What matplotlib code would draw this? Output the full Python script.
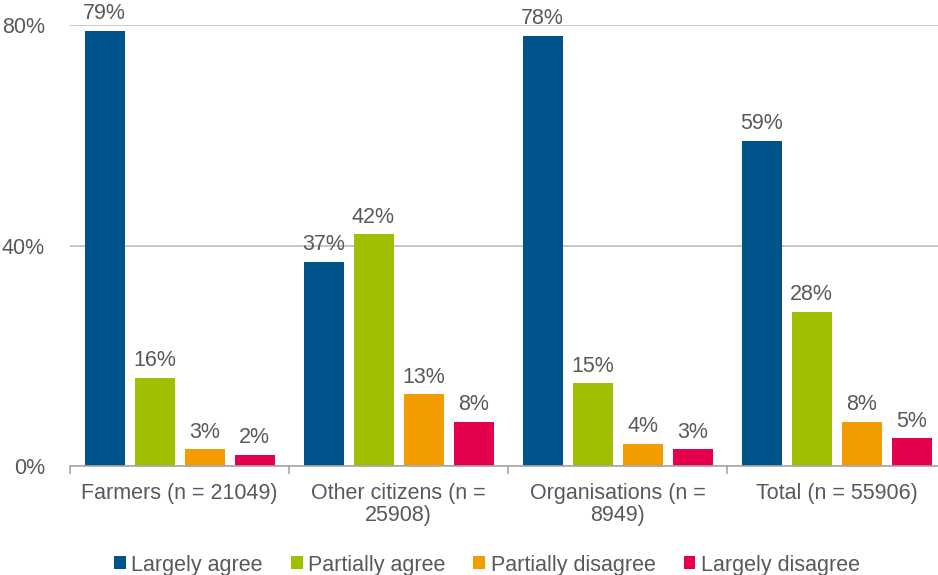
import matplotlib.pyplot as plt
import numpy as np

plt.rcParams['font.family'] = ['Liberation Sans', 'DejaVu Sans']

# Datos
grupos = ['Farmers (n = 21049)', 'Other citizens (n =\n25908)',
          'Organisations (n =\n8949)', 'Total (n = 55906)']
series = ['Largely agree', 'Partially agree', 'Partially disagree', 'Largely disagree']
largely_agree = [79, 37, 78, 59]
partially_agree = [16, 42, 15, 28]
partially_disagree = [3, 13, 4, 8]
largely_disagree = [2, 8, 3, 5]
colores = ['#00538A', '#A2BE00', '#F39C00', '#E4004F']
valores = [largely_agree, partially_agree, partially_disagree, largely_disagree]

texto = '#595959'
fs = 15.5

fig = plt.figure(figsize=(9.38, 5.75), dpi=100)
ax = fig.add_axes([70 / 938, 1 - 466 / 575, 876 / 938, 441 / 575])

x = np.arange(len(grupos))
ancho = 40 / 219
paso = 50 / 219
for i, (serie, vals, c) in enumerate(zip(series, valores, colores)):
    pos = x + (i - 1.5) * paso
    ax.bar(pos, vals, width=ancho, color=c, label=serie, zorder=3)
    for p, v in zip(pos, vals):
        ax.text(p, v + 1.2, f'{v}%', ha='center', va='bottom', fontsize=fs,
                color=texto, clip_on=False)

ax.set_xlim(-0.5, len(grupos) - 0.5)
ax.set_ylim(0, 80)
ax.set_yticks([0, 40, 80])
ax.set_yticklabels(['0%', '40%', '80%'])
ax.yaxis.grid(True, color='#BFBFBF', linewidth=1.2, zorder=0)
ax.tick_params(axis='y', length=0, pad=18, labelsize=fs, labelcolor=texto)

# separadores entre grupos y etiquetas en el centro
ax.set_xticks(np.arange(len(grupos) + 1) - 0.5)
ax.set_xticklabels([])
ax.set_xticks(x, minor=True)
ax.set_xticklabels(grupos, minor=True, fontsize=fs, color=texto, linespacing=1.1)
ax.tick_params(axis='x', which='major', length=6, width=1.2, color='#A6A6A6')
ax.tick_params(axis='x', which='minor', length=0, pad=12)

for s in ['top', 'right', 'left']:
    ax.spines[s].set_visible(False)
ax.spines['bottom'].set_color('#A6A6A6')
ax.spines['bottom'].set_linewidth(1.2)
ax.spines['bottom'].set_zorder(4)

fig.legend(loc='center', bbox_to_anchor=(487 / 938, 1 - 565 / 575), ncol=4,
           frameon=False, fontsize=fs, labelcolor=texto, handlelength=0.55,
           handleheight=0.55, handletextpad=0.25, columnspacing=1.3)

fig.savefig('out.png', dpi=100)
